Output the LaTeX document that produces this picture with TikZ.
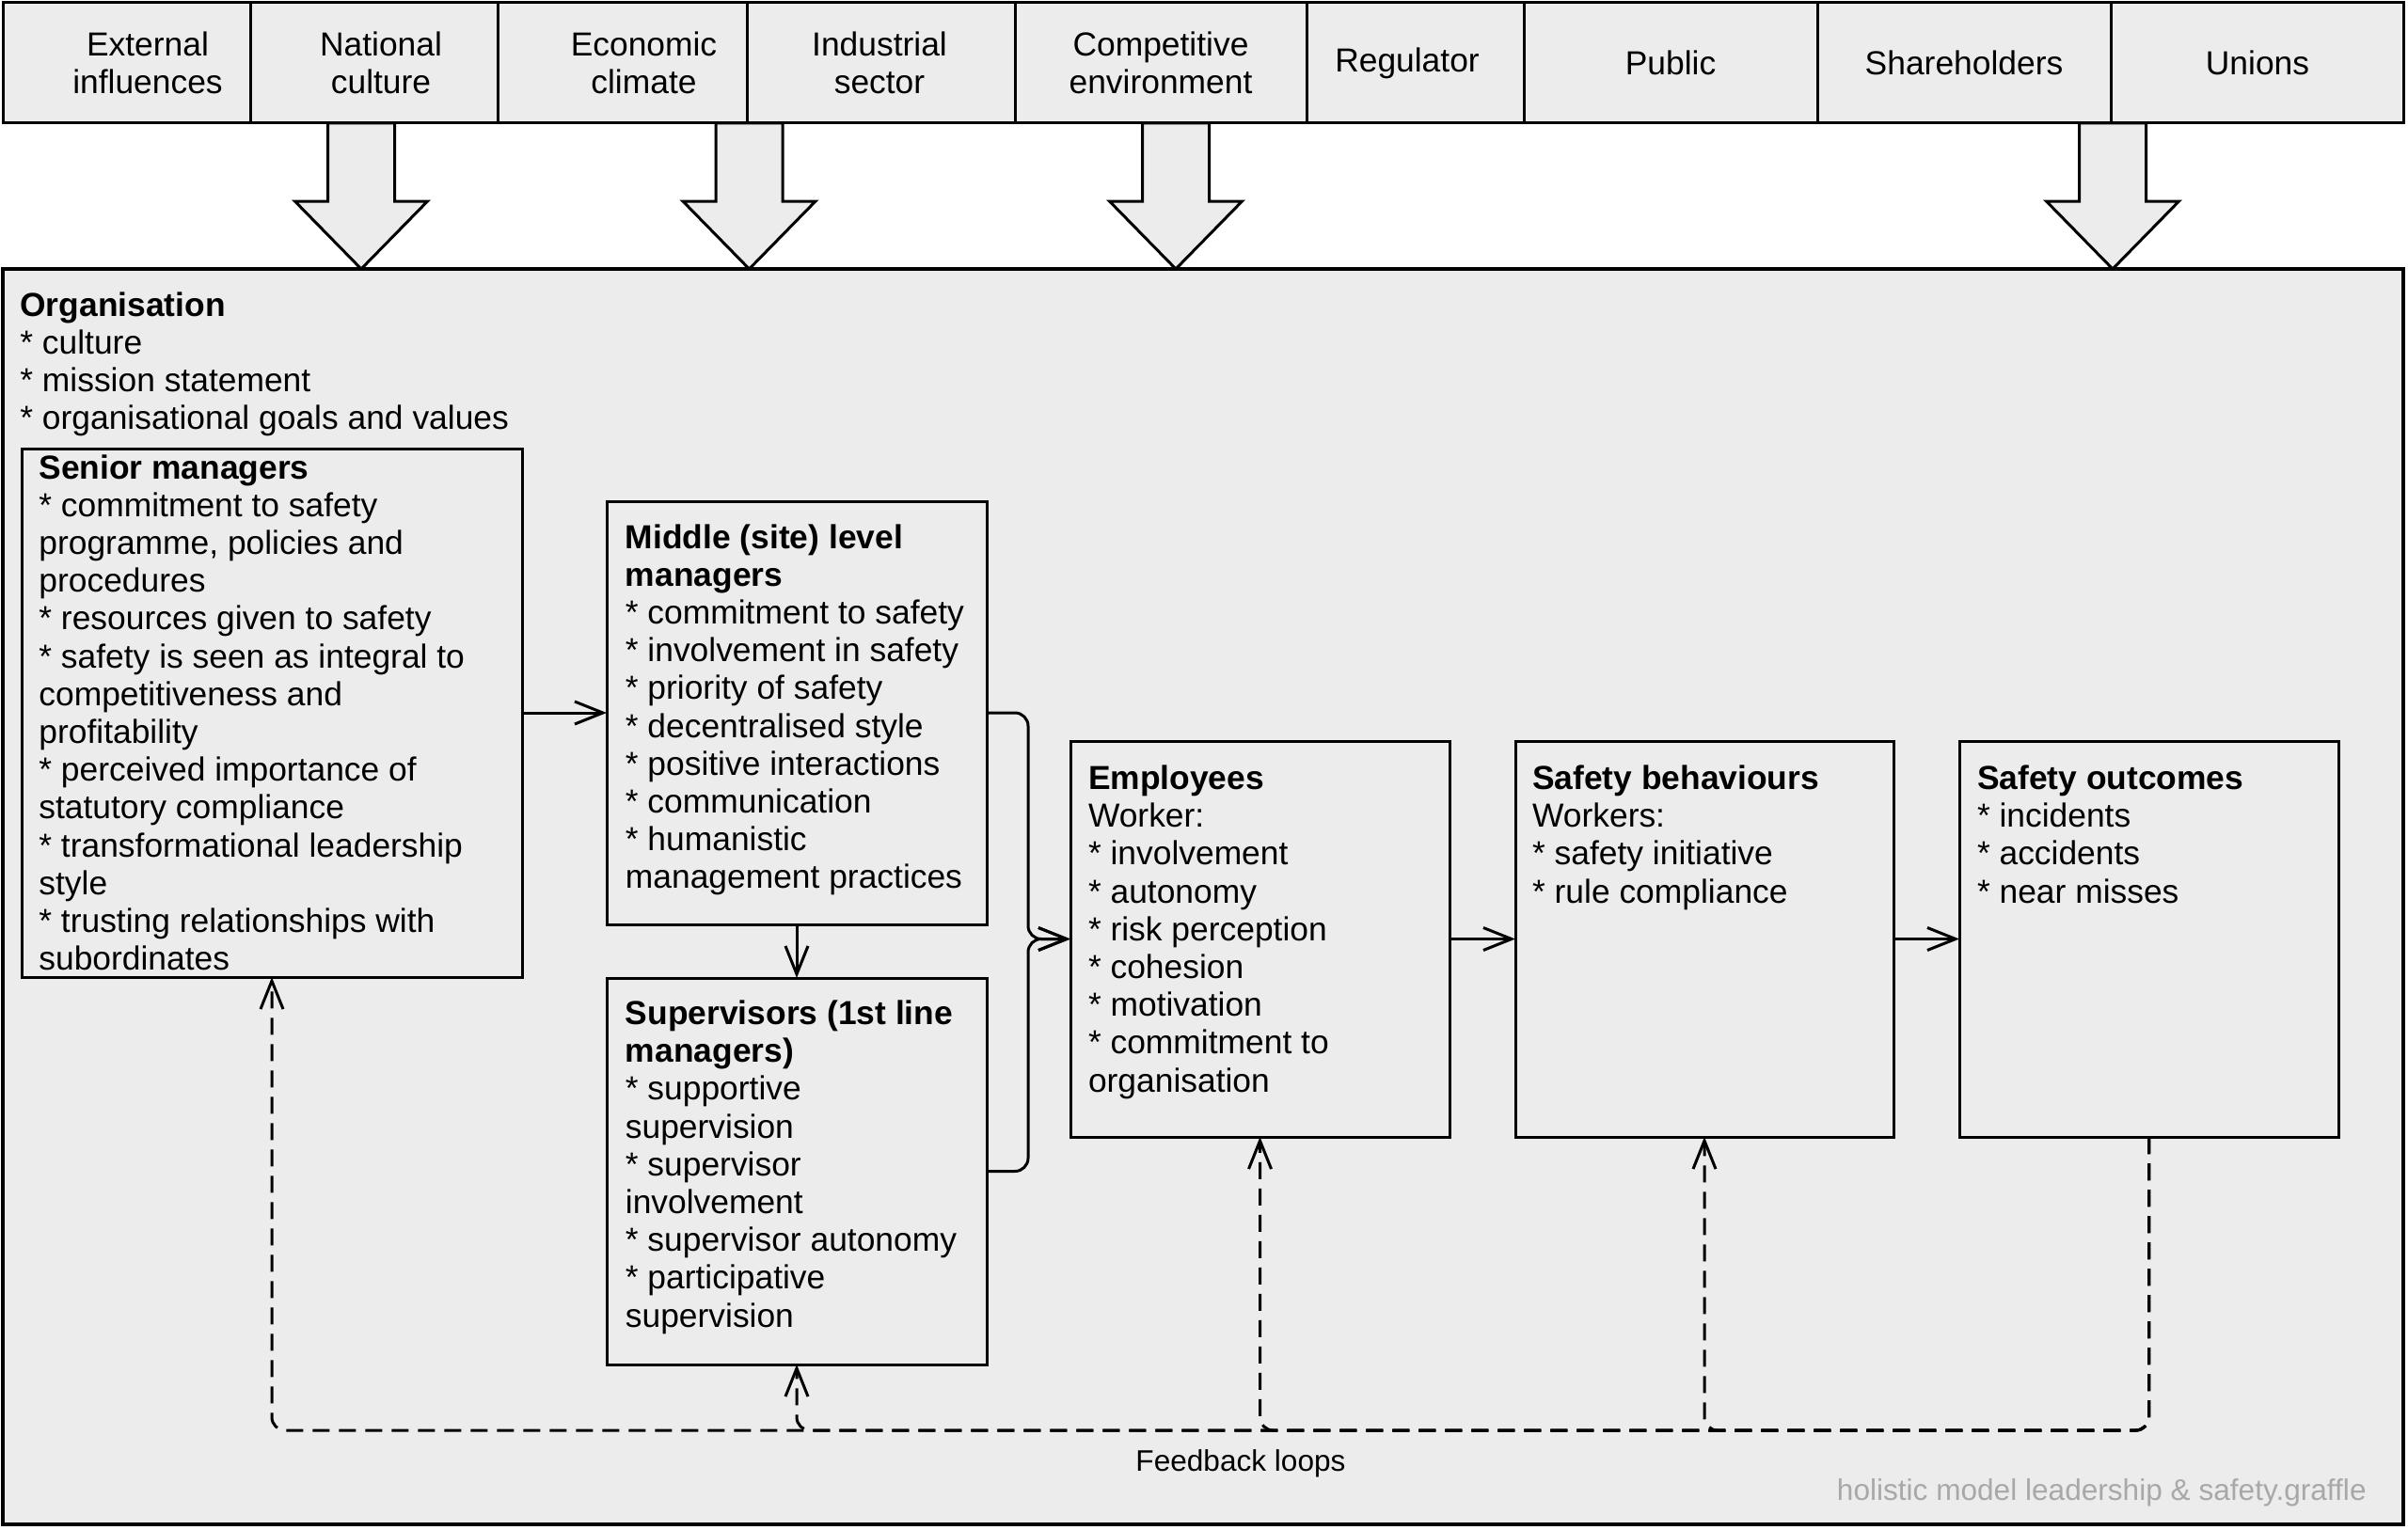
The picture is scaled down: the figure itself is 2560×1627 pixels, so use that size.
\documentclass[tikz,border=0pt]{standalone}
\usepackage{fontspec}
\setmainfont{Liberation Sans}
\usetikzlibrary{arrows.meta}
\definecolor{bg}{HTML}{ECECEC}
\definecolor{wm}{HTML}{A8A8A8}
\begin{document}
\begin{tikzpicture}[x=0.5pt,y=-0.5pt,
  cell/.style={draw, line width=1.5pt, fill=bg, inner sep=0, outer sep=0, minimum height=64pt},
  celltxt/.style={align=center, inner sep=0, font=\fontsize{17.7}{20.1}\selectfont},
  box/.style={draw, line width=1.5pt, fill=bg, inner sep=0, outer sep=0},
  txt/.style={align=left, anchor=north west, inner sep=0, font=\fontsize{17.7}{20.1}\selectfont},
  blockarrow/.style={draw, line width=1.5pt, fill=bg, line join=miter},
  arr/.style={draw, line width=1.5pt, -{Straight Barb[length=15pt,width=12pt,line width=1.5pt]}},
  fbline/.style={draw, line width=1.5pt, dash pattern=on 9pt off 5pt, rounded corners=7pt},
  fbarr/.style={fbline, -{Straight Barb[length=15pt,width=12pt,line width=1.5pt]}}]
\useasboundingbox (0,0) rectangle (2560,1627);
\fill[white] (0,0) rectangle (2560,1627);

% top bar cells
\node[cell, minimum width=131.5pt] (c1) at (134.5,67) {};
\node[cell, minimum width=131.5pt] (c2) at (397.5,67) {};
\node[cell, minimum width=132.5pt] (c3) at (661.5,67) {};
\node[cell, minimum width=142.5pt] (c4) at (936.5,67) {};
\node[cell, minimum width=155pt] (c5) at (1234,67) {};
\node[cell, minimum width=115.5pt] (c6) at (1504.5,67) {};
\node[cell, minimum width=156pt] (c7) at (1776,67) {};
\node[cell, minimum width=156pt] (c8) at (2088,67) {};
\node[cell, minimum width=155.5pt] (c9) at (2399.5,67) {};
\node[celltxt] (t1) at (157,67) {External\\influences};
\node[celltxt] (t2) at (405,67) {National\\culture};
\node[celltxt] (t3) at (684.5,67) {Economic\\climate};
\node[celltxt] (t4) at (935,67) {Industrial\\sector};
\node[celltxt] (t5) at (1234,67) {Competitive\\environment};
\node[celltxt] (t6) at (1496,67) {Regulator};
\node[celltxt] (t7) at (1776,67) {Public};
\node[celltxt] (t8) at (2088,67) {Shareholders};
\node[celltxt] (t9) at (2400,67) {Unions};

% organisation box
\node[box, line width=1.6pt, minimum width=1276pt, minimum height=667.5pt] (org) at (1279,953.5) {};

% block arrows
\foreach \cx in {384,796.5,1250,2246}{
  \draw[blockarrow] (\cx-35.5,131) -- (\cx+35.5,131) -- (\cx+35.5,214) -- (\cx+70.5,214)
    -- (\cx,286) -- (\cx-70.5,214) -- (\cx-35.5,214) -- cycle;
}

\node[txt] (orgtxt) at (21,307.5) {\strut\textbf{Organisation}\\* culture\\* mission statement\\* organisational goals and values};

% boxes
\node[box, minimum width=266pt, minimum height=281pt] (senior) at (289,758) {};
\node[box, minimum width=202pt, minimum height=225pt] (middle) at (847,758) {};
\node[box, minimum width=202pt, minimum height=205.5pt] (super) at (847,1245.5) {};
\node[box, minimum width=201.5pt, minimum height=210.5pt] (emp) at (1339.5,998.5) {};
\node[box, minimum width=201pt, minimum height=210.5pt] (sb) at (1812,998.5) {};
\node[box, minimum width=201.5pt, minimum height=210.5pt] (so) at (2284.5,998.5) {};

\node[txt] (seniortxt) at (41,480.5) {\strut\textbf{Senior managers}\\* commitment to safety\\programme, policies and\\procedures\\* resources given to safety\\* safety is seen as integral to\\competitiveness and\\profitability\\* perceived importance of\\statutory compliance\\* transformational leadership\\style\\* trusting relationships with\\subordinates};
\node[txt] (middletxt) at (664.5,554.5) {\strut\textbf{Middle (site) level}\\\textbf{managers}\\* commitment to safety\\* involvement in safety\\* priority of safety\\* decentralised style\\* positive interactions\\* communication\\* humanistic\\management practices};
\node[txt] (supertxt) at (664.5,1061) {\strut\textbf{Supervisors (1st line}\\\textbf{managers)}\\* supportive\\supervision\\* supervisor\\involvement\\* supervisor autonomy\\* participative\\supervision};
\node[txt] (emptxt) at (1156.6,811) {\strut\textbf{Employees}\\Worker:\\* involvement\\* autonomy\\* risk perception\\* cohesion\\* motivation\\* commitment to\\organisation};
\node[txt] (sbtxt) at (1628.7,811) {\strut\textbf{Safety behaviours}\\Workers:\\* safety initiative\\* rule compliance};
\node[txt] (sotxt) at (2101.6,811) {\strut\textbf{Safety outcomes}\\* incidents\\* accidents\\* near misses};

% solid connectors
\coordinate (jx) at (1093,0);
\draw[arr] (senior.east) -- (middle.west);
\draw[arr] (middle.south) -- (super.north);
\draw[arr, rounded corners=7pt] (middle.east) -- (middle.east -| jx) -- (jx |- emp.west) -- (emp.west);
\draw[arr, rounded corners=7pt] (super.east) -- (super.east -| jx) -- (jx |- emp.west) -- (emp.west);
\draw[arr] (emp.east) -- (sb.west);
\draw[arr] (sb.east) -- (so.west);

% feedback loops
\coordinate (fb) at (0,1521);
\draw[fbarr] (so.south) -- (so.south |- fb) -- (senior.south |- fb) -- (senior.south);
\draw[fbarr] (so.south) -- (so.south |- fb) -- (super.south |- fb) -- (super.south);
\draw[fbarr] (so.south) -- (so.south |- fb) -- (emp.south |- fb) -- (emp.south);
\draw[fbarr] (so.south) -- (so.south |- fb) -- (sb.south |- fb) -- (sb.south);

\node[inner sep=0, font=\fontsize{15.8}{18}\selectfont] (fbl) at (1319,1556) {Feedback loops};
\node[inner sep=0, anchor=east, text=wm, font=\fontsize{15.8}{18}\selectfont] (wmark) at (2516,1587) {holistic model leadership \& safety.graffle};
\end{tikzpicture}
\end{document}
